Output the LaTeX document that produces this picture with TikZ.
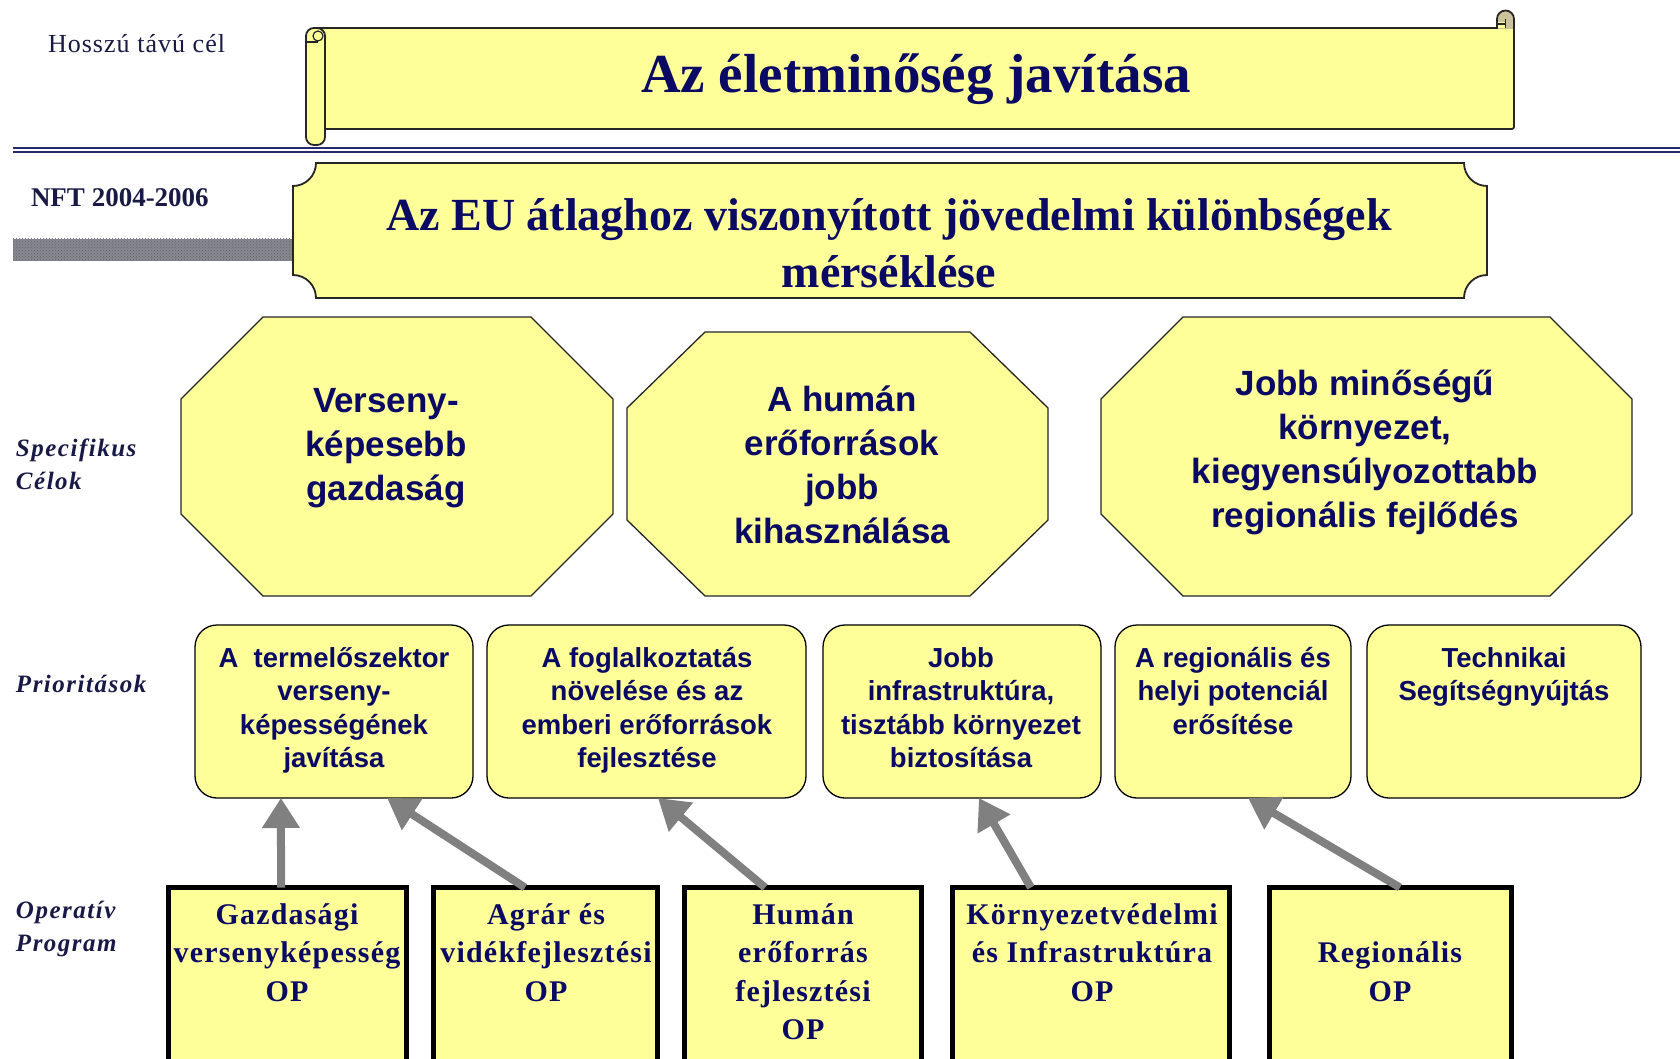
\documentclass[tikz,border=0pt]{standalone}
\usepackage{fontspec}
\setmainfont{Liberation Serif}
\setsansfont{Liberation Sans}
\newfontfamily\lblfont[LetterSpace=6]{Liberation Serif}
\newfontfamily\opfont[LetterSpace=4]{Liberation Serif}
\newfontfamily\hlfont[LetterSpace=4]{Liberation Serif}
\usetikzlibrary{arrows.meta,calc,patterns}
\newcommand{\mlc}[1]{\begin{tabular}[t]{@{}c@{}}#1\end{tabular}}
\newcommand{\mll}[1]{\begin{tabular}[t]{@{}l@{}}#1\end{tabular}}
\definecolor{yel}{RGB}{255,255,153}
\definecolor{txtblue}{RGB}{10,10,100}
\definecolor{lblcol}{RGB}{25,25,70}
\definecolor{arrgray}{RGB}{128,128,128}
\definecolor{rolltan}{RGB}{205,195,155}
\definecolor{linenavy}{RGB}{40,40,110}
\definecolor{hatchgray}{RGB}{135,135,145}
\begin{document}
\begin{tikzpicture}[x=1pt,y=-1pt,
  txt/.style={inner sep=0pt, outer sep=0pt, text=txtblue},
  octtxt/.style={txt, font=\sffamily\bfseries\fontsize{35}{44}\selectfont},
  priotxt/.style={txt, font=\sffamily\bfseries\fontsize{27.5}{33.5}\selectfont},
  optxt/.style={txt, font=\opfont\bfseries\fontsize{30}{38.5}\selectfont},
  lbl/.style={txt, text=lblcol, font=\lblfont\bfseries\itshape\fontsize{25}{33}\selectfont},
  prio/.style={draw=black, line width=1.3, fill=yel, rounded corners=22, inner sep=0pt, outer sep=0pt, minimum height=173, anchor=north west},
  opbox/.style={draw=black, line width=5, fill=yel, inner sep=0pt, outer sep=0pt, minimum height=200, anchor=north west},
  shp/.style={draw=black!85, line width=1.3, fill=yel},
  scrl/.style={draw=black!85, line width=1.8},
  arr/.style={draw=arrgray, line width=8, -{Triangle[width=36pt,length=30pt]}}
]
\useasboundingbox (0,0) rectangle (1680,1059);
\fill[white] (0,0) rectangle (1680,1059);

% double rule
\draw[linenavy, line width=2.6] (13,148) -- (1680,148);
\draw[linenavy, line width=1.8] (13,152) -- (1680,152);

% hatched bar
\fill[hatchgray] (13,239) rectangle (293,261);
\fill[pattern=crosshatch dots, pattern color=black!60] (13,239) rectangle (293,261);

% top scroll
\fill[yel] (318,28) rectangle (1514,129);
\draw[scrl] (318,28) -- (1497,28);
\draw[scrl] (1514,20) -- (1514,124) .. controls (1514,129) .. (1509,129) -- (325,129);
\filldraw[scrl, fill=rolltan] (1497,29) -- (1497,19) arc[start angle=180, end angle=360, radius=8.5] -- (1514,29);
\fill[yel] (1498,22) rectangle (1505,28);
\draw[scrl, line width=1.2] (1505.5,19) -- (1505.5,28);
\draw[scrl, line width=1.2] (1497,24) -- (1505.5,24);
\filldraw[scrl, fill=yel, rounded corners=8] (306,28) rectangle (325,145);
\draw[scrl, line width=1.2] (307,42) -- (318,42);
\draw[scrl, line width=1.2] (318,36) circle[radius=5];

% plaque
\path[shp, line width=1.8] (316,163) -- (1464,163) arc[start angle=180, end angle=90, radius=23]
  -- (1487,275) arc[start angle=270, end angle=180, radius=23]
  -- (316,298) arc[start angle=0, end angle=-90, radius=23]
  -- (293,186) arc[start angle=90, end angle=0, radius=23] -- cycle;

% octagons
\path[shp] (263,317) -- (531,317) -- (613,399) -- (613,514) -- (531,596) -- (263,596) -- (181,514) -- (181,399) -- cycle;
\path[shp] (705,332) -- (970,332) -- (1048,408) -- (1048,520) -- (970,596) -- (705,596) -- (627,520) -- (627,408) -- cycle;
\path[shp] (1183,317) -- (1550,317) -- (1632,399) -- (1632,514) -- (1550,596) -- (1183,596) -- (1101,514) -- (1101,399) -- cycle;

% priority boxes
\node[prio, minimum width=278] (p1) at (195,625) {};
\node[prio, minimum width=319] (p2) at (487,625) {};
\node[prio, minimum width=278] (p3) at (823,625) {};
\node[prio, minimum width=236] (p4) at (1115,625) {};
\node[prio, minimum width=274] (p5) at (1367,625) {};

% operative boxes
\node[opbox, minimum width=238] (o1) at (168.5,887.5) {};
\node[opbox, minimum width=224] (o2) at (433.5,887.5) {};
\node[opbox, minimum width=237] (o3) at (684.5,887.5) {};
\node[opbox, minimum width=277] (o4) at (952.5,887.5) {};
\node[opbox, minimum width=242] (o5) at (1269.5,887.5) {};

% arrows
\draw[arr] ($(o1.north west)!0.473!(o1.north east)$) -- ($(p1.south west)!0.309!(p1.south east)$);
\draw[arr] ($(o2.north west)!0.408!(o2.north east)$) -- ($(p1.south west)!0.691!(p1.south east)$);
\draw[arr] ($(o3.north west)!0.340!(o3.north east)$) -- ($(p2.south west)!0.536!(p2.south east)$);
\draw[arr] ($(o4.north west)!0.283!(o4.north east)$) -- ($(p3.south west)!0.561!(p3.south east)$);
\draw[arr] ($(o5.north west)!0.539!(o5.north east)$) -- ($(p4.south west)!0.564!(p4.south east)$);

% left labels
\node[txt, text=lblcol, anchor=base west, font=\hlfont\fontsize{26}{30}\selectfont] (lhosszu) at (48,53) {Hosszú távú cél};
\node[txt, text=lblcol, anchor=base west, font=\bfseries\fontsize{27}{30}\selectfont] (lnft) at (31,207) {NFT 2004-2006};
\node[lbl, anchor=base west] (lspec) at (16,456) {\mll{Specifikus\\Célok}};
\node[lbl, anchor=base west] (lprio) at (16,692) {Prioritások};
\node[lbl, anchor=base west] (lop) at (16,918) {\mll{Operatív\\Program}};

% titles
\node[txt, anchor=base, font=\bfseries\fontsize{55}{60}\selectfont] (title) at (916,93) {Az életminőség javítása};
\node[txt, anchor=base, font=\bfseries\fontsize{46}{57}\selectfont] (nft) at (889,231) {\mlc{Az EU átlaghoz viszonyított jövedelmi különbségek\\mérséklése}};

% octagon texts
\node[octtxt, anchor=base] (s1) at (386,412) {\mlc{Verseny-\\képesebb\\gazdaság}};
\node[octtxt, anchor=base] (s2) at (842,411) {\mlc{A humán\\erőforrások\\jobb\\kihasználása}};
\node[octtxt, anchor=base] (s3) at (1365,395) {\mlc{Jobb minőségű\\környezet,\\kiegyensúlyozottabb\\regionális fejlődés}};

% priority texts
\node[priotxt, anchor=base] (p1t) at (334,667) {\mlc{A\ \ termelőszektor\\verseny-\\képességének\\javítása}};
\node[priotxt, anchor=base] (p2t) at (647,667) {\mlc{A foglalkoztatás\\növelése és az\\emberi erőforrások\\fejlesztése}};
\node[priotxt, anchor=base] (p3t) at (961,667) {\mlc{Jobb\\infrastruktúra,\\tisztább környezet\\biztosítása}};
\node[priotxt, anchor=base] (p4t) at (1233,667) {\mlc{A regionális és\\helyi potenciál\\erősítése}};
\node[priotxt, anchor=base] (p5t) at (1504,667) {\mlc{Technikai\\Segítségnyújtás}};

% operative texts
\node[optxt, anchor=base] (o1t) at (287,924) {\mlc{Gazdasági\\versenyképesség\\OP}};
\node[optxt, anchor=base] (o2t) at (546,924) {\mlc{Agrár és\\vidékfejlesztési\\OP}};
\node[optxt, anchor=base] (o3t) at (803,924) {\mlc{Humán\\erőforrás\\fejlesztési\\OP}};
\node[optxt, anchor=base] (o4t) at (1092,924) {\mlc{Környezetvédelmi\\és Infrastruktúra\\OP}};
\node[optxt, anchor=base] (o5t) at (1390,962.5) {\mlc{Regionális\\OP}};
\end{tikzpicture}
\end{document}
